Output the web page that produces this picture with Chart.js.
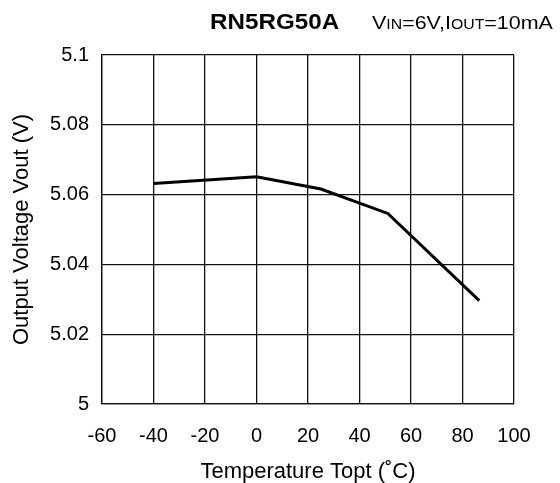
<!DOCTYPE html>
<html lang="en">
<head>
    <meta charset="UTF-8">
    <title>RN5RG50A Vout vs Temperature</title>
    <script src="https://cdn.jsdelivr.net/npm/chart.js"></script>
    <style>
        body {
            margin: 0;
            background-color: #FFFFFF;
        }
        canvas {
            display: block;
        }
    </style>
</head>
<body>
    <canvas id="myChart" width="560" height="483"></canvas>

    <script>
        // data
        var temps = [-40, 0, 25, 51, 86.5];
        var vout = [5.0632, 5.0651, 5.0616, 5.0546, 5.0296];
        var xTicks = [-60, -40, -20, 0, 20, 40, 60, 80, 100];
        var yTicks = [5, 5.02, 5.04, 5.06, 5.08, 5.1];

        var FONT = "'Liberation Sans', Arial, Helvetica, sans-serif";

        // heading drawn on the canvas (bold part number + conditions with small caps)
        var headerPlugin = {
            id: 'header',
            afterDraw: function(chart) {
                var c = chart.ctx;
                c.save();
                c.fillStyle = '#000';
                c.textBaseline = 'alphabetic';
                c.translate(0, 29);
                c.scale(1.1, 1);
                c.font = 'bold 22px ' + FONT;
                c.fillText('RN5RG50A', 210 / 1.1, 0);
                c.restore();

                c.save();
                c.fillStyle = '#000';
                c.translate(0, 29);
                c.scale(1.13, 1);
                var parts = [
                    ['V', 19], ['IN', 14], ['=6V,I', 19], ['OUT', 14], ['=10mA', 19]
                ];
                var x = 372 / 1.13;
                parts.forEach(function(p) {
                    c.font = p[1] + 'px ' + FONT;
                    c.fillText(p[0], x, 0);
                    x += c.measureText(p[0]).width;
                });
                c.restore();
            }
        };

        var ctx = document.getElementById('myChart').getContext('2d');

        var myChart = new Chart(ctx, {
            type: 'line',
            data: {
                datasets: [{
                    data: temps.map(function(t, i) { return {x: t, y: vout[i]}; }),
                    borderColor: '#000',
                    borderWidth: 3,
                    pointRadius: 0,
                    tension: 0,
                    fill: false
                }]
            },
            options: {
                responsive: false,
                animation: false,
                layout: {
                    padding: {top: 55, right: 46, left: 0, bottom: 0}
                },
                scales: {
                    x: {
                        type: 'linear',
                        min: -60,
                        max: 100,
                        afterFit: function(scale) { scale.height = 79; },
                        afterBuildTicks: function(scale) {
                            scale.ticks = xTicks.map(function(v) { return {value: v}; });
                        },
                        ticks: {
                            color: '#000',
                            padding: 20,
                            font: {family: FONT, size: 20},
                            callback: function(value) { return String(value); }
                        },
                        grid: {
                            color: '#111',
                            lineWidth: 1.3,
                            drawTicks: false
                        },
                        border: {color: '#111', width: 1.3},
                        title: {
                            display: true,
                            text: 'Temperature Topt (˚C)',
                            color: '#000',
                            font: {family: FONT, size: 22, lineHeight: 1},
                            padding: {top: 0, bottom: 0}
                        }
                    },
                    y: {
                        min: 5,
                        max: 5.1,
                        afterFit: function(scale) { scale.width = 102; },
                        afterBuildTicks: function(scale) {
                            scale.ticks = yTicks.map(function(v) { return {value: v}; });
                        },
                        ticks: {
                            color: '#000',
                            padding: 13,
                            font: {family: FONT, size: 20},
                            callback: function(value) { return String(Number(value.toFixed(2))); }
                        },
                        grid: {
                            color: '#111',
                            lineWidth: 1.3,
                            drawTicks: false
                        },
                        border: {color: '#111', width: 1.3},
                        title: {
                            display: true,
                            text: 'Output Voltage Vout (V)',
                            color: '#000',
                            font: {family: FONT, size: 22, lineHeight: 1},
                            padding: {top: 11, bottom: 0}
                        }
                    }
                },
                plugins: {
                    legend: {display: false},
                    tooltip: {enabled: false}
                }
            },
            plugins: [headerPlugin]
        });
    </script>
</body>
</html>
